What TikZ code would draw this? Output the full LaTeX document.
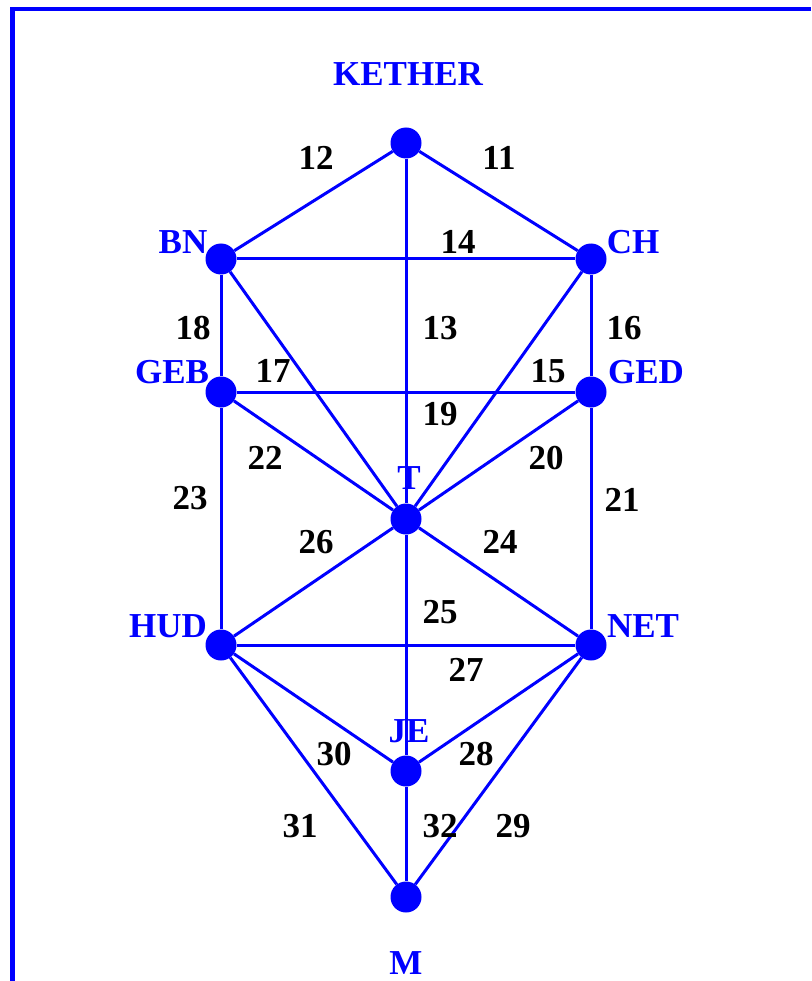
\documentclass[tikz,border=0pt]{standalone}
\usepackage{fontspec}
\setmainfont{Liberation Serif}
\definecolor{treeblue}{HTML}{0000FF}
\usepackage{tikz}
\usetikzlibrary{positioning}

\begin{document}
\begin{tikzpicture}[
  x=1pt, y=-1pt,
  sefnode/.style={
    circle, fill=treeblue, draw=none,
    minimum size=31pt, inner sep=0pt},
  sefname/.style={
    text=treeblue, inner sep=0pt,
    font=\fontsize{35}{40}\selectfont\bfseries},
  pathnum/.style={
    text=black, inner sep=0pt,
    font=\fontsize{35}{40}\selectfont\bfseries},
  pathline/.style={treeblue, line width=3pt},
]
  \useasboundingbox (0,0) rectangle (811,981);
  % frame, open at right and bottom
  \draw[treeblue, line width=4.5pt] (811,9) -- (12.5,9) -- (12.5,981);

  % the ten sefirot
  \node[sefnode] (K)   at (406,143) {};
  \node[sefnode] (BN)  at (221,259) {};
  \node[sefnode] (CH)  at (591,259) {};
  \node[sefnode] (GEB) at (221,392) {};
  \node[sefnode] (GED) at (591,392) {};
  \node[sefnode] (T)   at (406,519) {};
  \node[sefnode] (HUD) at (221,645) {};
  \node[sefnode] (NET) at (591,645) {};
  \node[sefnode] (JE)  at (406,771) {};
  \node[sefnode] (M)   at (406,897) {};

  % names
  \node[sefname] (lK)   at (408,74)  {KETHER};
  \node[sefname] (lBN)  at (183,242) {BN};
  \node[sefname] (lCH)  at (633,242) {CH};
  \node[sefname] (lGEB) at (172,372) {GEB};
  \node[sefname] (lGED) at (646,372) {GED};
  \node[sefname] (lT)   at (409,478) {T};
  \node[sefname] (lHUD) at (168,626) {HUD};
  \node[sefname] (lNET) at (643,626) {NET};
  \node[sefname] (lJE)  at (409,731) {JE};
  \node[sefname] (lM)   at (406,963) {M};

  % the 22 paths
  \foreach \a/\b in {K/CH,K/BN,K/T,BN/CH,CH/T,CH/GED,BN/T,BN/GEB,GEB/GED,
                     GED/T,GED/NET,GEB/T,GEB/HUD,T/NET,T/JE,T/HUD,HUD/NET,
                     NET/JE,NET/M,HUD/JE,HUD/M,JE/M}{
    \draw[pathline] (\a) -- (\b);
  }

  % path numbers
  \foreach \nr/\px/\py in {11/499/158,12/316/158,13/440/328,14/458/242,
                           15/548/371,16/624/328,17/273/371,18/193/328,
                           19/440/414,20/546/458,21/622/500,22/265/458,
                           23/190/498,24/500/542,25/440/612,26/316/542,
                           27/466/670,28/476/754,29/513/826,30/334/754,
                           31/300/826,32/440/826}{
    \node[pathnum] (p\nr) at (\px,\py) {\nr};
  }
\end{tikzpicture}
\end{document}
